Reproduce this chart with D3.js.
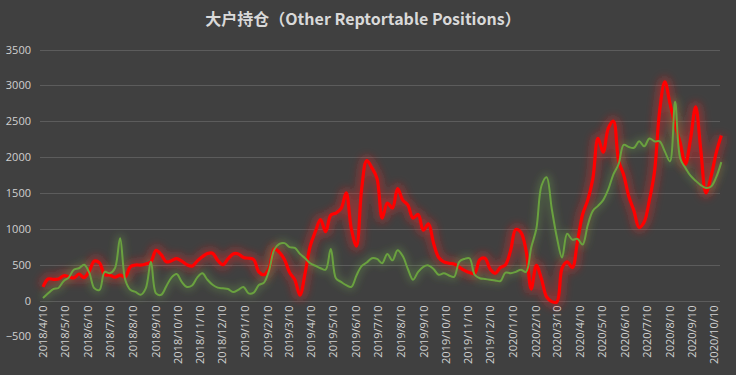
<!DOCTYPE html>
<html>
<head>
<meta charset="utf-8">
<script src="https://cdn.jsdelivr.net/npm/d3@7"></script>
<style>
  body { margin: 0; background: #404040; }
  svg { display: block; }
</style>
</head>
<body>
<div id="chart"></div>
<script>
// Chart title and tick labels
var titleText = "大户持仓（Other Reptortable Positions）";
var yTicks = [-500, 0, 500, 1000, 1500, 2000, 2500, 3000, 3500];
var xTickLabels = [
  "2018/4/10", "2018/5/10", "2018/6/10", "2018/7/10", "2018/8/10", "2018/9/10",
  "2018/10/10", "2018/11/10", "2018/12/10", "2019/1/10", "2019/2/10", "2019/3/10",
  "2019/4/10", "2019/5/10", "2019/6/10", "2019/7/10", "2019/8/10", "2019/9/10",
  "2019/10/10", "2019/11/10", "2019/12/10", "2020/1/10", "2020/2/10", "2020/3/10",
  "2020/4/10", "2020/5/10", "2020/6/10", "2020/7/10", "2020/8/10", "2020/9/10",
  "2020/10/10"
];

// Weekly report dates start here
var firstWeek = "2018/4/10";

// Red series (weekly)
var redValues = [
  190, 300, 295, 300, 345, 335, 315, 370, 320, 410,
  550, 525, 360, 355, 325, 355, 330, 470, 495, 495,
  510, 540, 700, 640, 540, 555, 585, 550, 500, 480,
  550, 610, 655, 660, 560, 500, 580, 650, 650, 600,
  590, 570, 400, 360, 450, 720, 670, 570, 390, 290,
  75, 380, 760, 960, 1130, 960, 1190, 1220, 1280, 1500,
  1000, 760, 1550, 1950, 1850, 1700, 1150, 1360, 1290, 1560,
  1400, 1330, 1150, 1200, 980, 1070, 800, 600, 540, 520,
  510, 465, 420, 390, 380, 570, 590, 440, 380, 460,
  500, 700, 990, 950, 700, 160, 490, 300, 50, -15,
  -20, 450, 540, 460, 820, 1200, 1400, 1700, 2260, 2070,
  2400, 2500, 1950, 1750, 1450, 1250, 1020, 1100, 1400, 1800,
  2650, 3050, 2750, 2450, 2200, 1900, 2250, 2700, 2100, 1500,
  1730, 2060, 2300
];

// Green series (weekly)
var greenValues = [
  35, 100, 160, 175, 270, 320, 430, 450, 500, 390,
  170, 150, 400, 380, 450, 870, 290, 150, 120, 80,
  170, 540, 100, 80, 200, 320, 370, 260, 190, 210,
  320, 380, 290, 220, 180, 170, 160, 120, 150, 190,
  100, 110, 215, 250, 420, 710, 790, 800, 745, 735,
  650, 590, 520, 485, 450, 430, 720, 310, 260, 215,
  190, 350, 480, 530, 590, 580, 520, 650, 560, 700,
  620, 440, 290, 400, 470, 490, 440, 360, 380, 350,
  330, 540, 580, 590, 360, 310, 300, 290, 280, 270,
  390, 380, 400, 430, 400, 740, 1000, 1600, 1720, 1280,
  880, 600, 930, 850, 860, 780, 1050, 1250, 1320, 1400,
  1550, 1760, 1900, 2170, 2140, 2130, 2220, 2150, 2260, 2220,
  2220, 2080, 1940, 2770, 1980, 1850, 1740, 1670, 1610, 1570,
  1590, 1720, 1930
];

var svgWidth = 736;
var svgHeight = 375;

var parseDate = d3.utcParse("%Y/%m/%d");
var start = parseDate(firstWeek);
var weeks = redValues.map(function(d, i) { return d3.utcDay.offset(start, i * 7); });

var svg = d3.select("#chart")
  .append("svg")
  .attr("width", svgWidth)
  .attr("height", svgHeight);

svg.append("rect")
  .attr("width", svgWidth)
  .attr("height", svgHeight)
  .attr("fill", "#404040");

// Glow filters
var defs = svg.append("defs");
function addGlow(id, sd) {
  var f = defs.append("filter")
    .attr("id", id)
    .attr("x", "-10%").attr("y", "-30%")
    .attr("width", "120%").attr("height", "160%");
  f.append("feGaussianBlur").attr("stdDeviation", sd);
}
addGlow("blurRed", 4);
addGlow("blurGreen", 3.5);

// Scales
var x = d3.scaleUtc()
  .domain([parseDate(xTickLabels[0]), parseDate(xTickLabels[xTickLabels.length - 1])])
  .range([43, 714]);

var y = d3.scaleLinear()
  .domain([-500, 3500])
  .range([336.4, 49.5]);

// Gridlines
svg.append("g")
  .selectAll("line")
  .data(yTicks.filter(function(d) { return d >= 0; }))
  .enter()
  .append("line")
  .attr("x1", 40)
  .attr("x2", 720)
  .attr("y1", function(d) { return Math.round(y(d)) + 0.5; })
  .attr("y2", function(d) { return Math.round(y(d)) + 0.5; })
  .attr("stroke", "#5c5c5c")
  .attr("stroke-width", 1);

// Y axis
var leftAxis = d3.axisLeft(y)
  .tickValues(yTicks)
  .tickSize(0)
  .tickPadding(0)
  .tickFormat(d3.format("d"));
var yAxisG = svg.append("g")
  .attr("transform", "translate(31,0)")
  .call(leftAxis);
yAxisG.select(".domain").remove();
yAxisG.selectAll("text")
  .attr("fill", "#d0d0d0")
  .style("font-family", "'Open Sans', 'DejaVu Sans', sans-serif")
  .style("font-size", "11px");

// X axis (labels hang from the zero line)
var bottomAxis = d3.axisBottom(x)
  .tickValues(xTickLabels.map(parseDate))
  .tickSize(0)
  .tickFormat(function(d, i) { return xTickLabels[i]; });
var xAxisG = svg.append("g")
  .attr("transform", "translate(0," + (y(0) + 5) + ")")
  .call(bottomAxis);
xAxisG.select(".domain").remove();
xAxisG.selectAll("text")
  .attr("transform", "rotate(-90)")
  .attr("text-anchor", "end")
  .attr("x", 0)
  .attr("y", 0)
  .attr("dx", 0)
  .attr("dy", "0.35em")
  .attr("fill", "#d0d0d0")
  .style("font-family", "'Open Sans', 'DejaVu Sans', sans-serif")
  .style("font-size", "11px");

// Lines
var line = d3.line()
  .x(function(d, i) { return x(weeks[i]); })
  .y(function(d) { return y(d); })
  .curve(d3.curveCatmullRom.alpha(0.5));

var plot = svg.append("g");

plot.append("path")
  .datum(redValues)
  .attr("d", line)
  .attr("fill", "none")
  .attr("stroke", "#ff2020")
  .attr("stroke-width", 10)
  .attr("stroke-opacity", 0.4)
  .attr("filter", "url(#blurRed)");

plot.append("path")
  .datum(greenValues)
  .attr("d", line)
  .attr("fill", "none")
  .attr("stroke", "#70ad47")
  .attr("stroke-width", 8)
  .attr("stroke-opacity", 0.28)
  .attr("filter", "url(#blurGreen)");

plot.append("path")
  .datum(redValues)
  .attr("d", line)
  .attr("fill", "none")
  .attr("stroke", "#ff0000")
  .attr("stroke-width", 3.2)
  .attr("stroke-linejoin", "round");

plot.append("path")
  .datum(greenValues)
  .attr("d", line)
  .attr("fill", "none")
  .attr("stroke", "#6aa13f")
  .attr("stroke-width", 2)
  .attr("stroke-linejoin", "round");

// Title
svg.append("text")
  .attr("x", 363)
  .attr("y", 25)
  .attr("text-anchor", "middle")
  .attr("fill", "#d9d9d9")
  .style("font-family", "'Noto Sans CJK SC', sans-serif")
  .style("font-size", "16px")
  .style("font-weight", "bold")
  .text(titleText);
</script>
</body>
</html>
